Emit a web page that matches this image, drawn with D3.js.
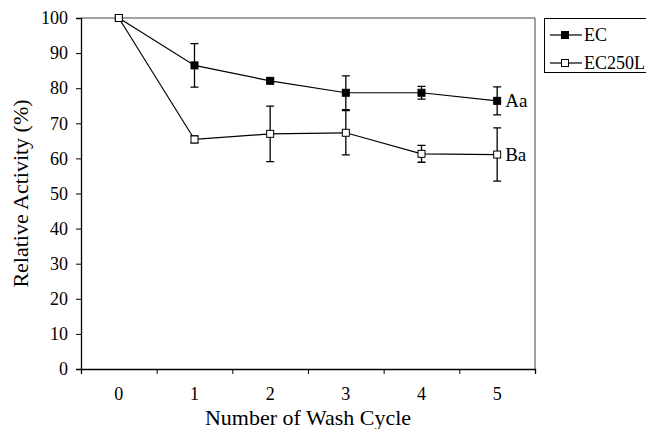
<!DOCTYPE html>
<html>
<head>
<meta charset="utf-8">
<script src="https://cdn.jsdelivr.net/npm/d3@7"></script>
<style>
  body { margin: 0; background: #fff; }
</style>
</head>
<body>
<div id="graph"></div>
<script>
var cycles = ["0", "1", "2", "3", "4", "5"];
var ecValues = [100, 86.5, 82.1, 78.7, 78.7, 76.4];
var ecErrors = [0, 6.2, 0.5, 4.8, 1.8, 4.0];
var ec250Values = [100, 65.4, 67.0, 67.3, 61.3, 61.1];
var ec250Errors = [0, 1.0, 7.9, 6.3, 2.4, 7.6];
var yTicks = [0, 10, 20, 30, 40, 50, 60, 70, 80, 90, 100];
var seriesNames = ["EC", "EC250L"];
var endLabels = ["Aa", "Ba"];

var serif = '"Liberation Serif", "DejaVu Serif", serif';
var width = 646;
var height = 429;
var margin = {top: 18, right: 111, bottom: 60, left: 81};
var w = width - margin.left - margin.right;
var h = height - margin.top - margin.bottom;

var svg = d3.select('#graph')
  .append('svg')
  .attr('width', width)
  .attr('height', height)
  .attr('font-family', serif);

var g = svg.append('g')
  .attr('transform', 'translate(' + margin.left + ',' + margin.top + ')');

var x = d3.scaleBand().domain(cycles).range([0, w]);
var xEdge = d3.scaleLinear().domain([0, cycles.length]).range([0, w]);
var y = d3.scaleLinear().domain([0, 100]).range([h, 0]);

// frame top/right
g.append('path')
  .attr('d', 'M0,0H' + w + 'V' + h)
  .attr('fill', 'none')
  .attr('stroke', '#444')
  .attr('stroke-width', 1);

// y axis
var yAxis = g.append('g')
  .call(d3.axisLeft(y).tickValues(yTicks).tickSize(5).tickPadding(8));

// x axis: boundary ticks + centred labels
var xTicks = g.append('g')
  .attr('transform', 'translate(0,' + h + ')')
  .call(d3.axisBottom(xEdge).tickValues(d3.range(cycles.length + 1)).tickSize(5).tickFormat(''));
var xLabels = g.append('g')
  .attr('transform', 'translate(0,' + h + ')')
  .call(d3.axisBottom(x).tickSize(0).tickPadding(18));
xLabels.select('.domain').remove();

g.selectAll('.tick text')
  .attr('font-family', serif)
  .attr('font-size', 18)
  .attr('fill', '#000');
[yAxis, xTicks, xLabels].forEach(function(a) { a.attr('font-family', serif); });

g.selectAll('.domain').attr('stroke', '#000').attr('stroke-width', 1.3);
g.selectAll('.tick line').attr('stroke', '#000');

// axis titles
svg.append('text')
  .attr('x', margin.left + w / 2)
  .attr('y', 425)
  .attr('text-anchor', 'middle')
  .attr('font-size', 22)
  .text('Number of Wash Cycle');

svg.append('text')
  .attr('transform', 'translate(28,' + (margin.top + h / 2) + ') rotate(-90)')
  .attr('text-anchor', 'middle')
  .attr('font-size', 22)
  .text('Relative Activity (%)');

var series = [
  {name: seriesNames[0], values: ecValues, errors: ecErrors, fill: '#000', label: endLabels[0]},
  {name: seriesNames[1], values: ec250Values, errors: ec250Errors, fill: '#fff', label: endLabels[1]}
];

var cx = function(i) { return x(cycles[i]) + x.bandwidth() / 2; };
var line = d3.line()
  .x(function(d, i) { return cx(i); })
  .y(function(d) { return y(d); });

series.forEach(function(s) {
  var sg = g.append('g');
  sg.append('path')
    .attr('d', line(s.values))
    .attr('fill', 'none')
    .attr('stroke', '#000')
    .attr('stroke-width', 1.2);

  // error bars
  s.values.forEach(function(v, i) {
    if (!s.errors[i]) return;
    var x0 = cx(i);
    var yt = y(v + s.errors[i]);
    var yb = y(v - s.errors[i]);
    sg.append('path')
      .attr('d', 'M' + x0 + ',' + yt + 'V' + yb +
        'M' + (x0 - 4) + ',' + yt + 'H' + (x0 + 4) +
        'M' + (x0 - 4) + ',' + yb + 'H' + (x0 + 4))
      .attr('stroke', '#000')
      .attr('stroke-width', 1.3)
      .attr('fill', 'none');
  });

  sg.selectAll('rect')
    .data(s.values)
    .enter()
    .append('rect')
    .attr('x', function(d, i) { return cx(i) - 3.5; })
    .attr('y', function(d) { return y(d) - 3.5; })
    .attr('width', 7)
    .attr('height', 7)
    .attr('fill', s.fill)
    .attr('stroke', '#000')
    .attr('stroke-width', 1);

  var last = s.values.length - 1;
  sg.append('text')
    .attr('x', cx(last) + 8)
    .attr('y', y(s.values[last]))
    .attr('dy', '0.35em')
    .attr('font-size', 19)
    .text(s.label);
});

// legend
var legend = svg.append('g').attr('transform', 'translate(544,18)');
legend.append('rect')
  .attr('x', 0.5)
  .attr('y', 0.5)
  .attr('width', 110)
  .attr('height', 54)
  .attr('fill', '#fff')
  .attr('stroke', '#000')
  .attr('stroke-width', 1);

series.forEach(function(s, i) {
  var ly = 17 + i * 28;
  legend.append('line')
    .attr('x1', 6).attr('x2', 38)
    .attr('y1', ly).attr('y2', ly)
    .attr('stroke', '#000')
    .attr('stroke-width', 1.2);
  legend.append('rect')
    .attr('x', 21 - 3.5).attr('y', ly - 3.5)
    .attr('width', 7).attr('height', 7)
    .attr('fill', s.fill)
    .attr('stroke', '#000');
  legend.append('text')
    .attr('x', 40)
    .attr('y', ly)
    .attr('dy', '0.35em')
    .attr('font-size', 18)
    .text(s.name);
});
</script>
</body>
</html>
